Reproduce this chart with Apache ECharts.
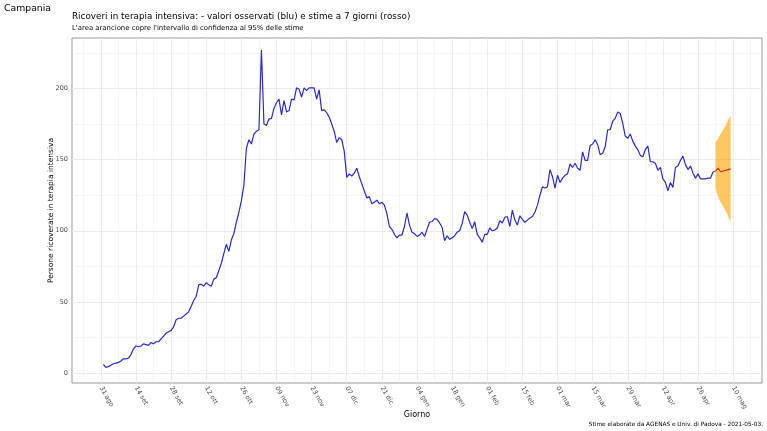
<!DOCTYPE html>
<html>
<head>
<meta charset="utf-8">
<script src="https://cdn.jsdelivr.net/npm/echarts@6/dist/echarts.min.js"></script>
<style>
html, body { margin: 0; padding: 0; background: #fff; }
#chart { width: 767px; height: 431px; }
</style>
</head>
<body>
<div id="chart"></div>
<script>
// giorno 0 = 31 agosto 2020
var startDate = Date.UTC(2020, 7, 31);
var mesi = ['gen', 'feb', 'mar', 'apr', 'mag', 'giu', 'lug', 'ago', 'set', 'ott', 'nov', 'dic'];

// valori osservati, dal giorno 1 (01 set) al giorno 244 (02 mag)
var obsStart = 1;
var obsValues = [
    6, 4, 4.5, 5.5, 6.5, 7, 7.5, 8.5, 10, 10,
    10.5, 13, 17, 19, 18.5, 19, 20.5, 20, 19.5, 21.5,
    20.5, 22, 22, 24, 26, 28, 29, 30, 32.5, 37.5,
    38.5, 38.5, 40, 41.5, 43, 47, 51, 54, 62, 62.5,
    61, 63.5, 62, 61, 66, 67, 72, 77, 84, 90.5,
    85.5, 93.5, 98, 106, 113, 121, 132, 158, 164, 161,
    168, 170, 171, 227, 175, 174, 178.5, 179, 186, 190,
    192.5, 181.5, 191.5, 183.5, 184.5, 192.5, 192, 200.5, 199.5, 194,
    200.5, 198.5, 200.5, 200.5, 200.5, 192.5, 199, 184.5, 185, 183,
    180, 175, 170, 162, 165.5, 164, 156, 137.5, 140, 138.5,
    140.5, 144, 138, 133, 128, 123, 124, 119, 120, 121.5,
    119, 120, 118, 112, 103, 101, 97.5, 95, 97, 97,
    103, 112.5, 104, 99, 98, 96, 97, 99, 96, 101,
    106, 106.5, 108.5, 108, 105.5, 102.5, 93, 96.5, 94, 95,
    96.5, 99, 100, 105, 113.5, 111, 106, 101.5, 106.3, 97.5,
    95, 92, 97.5, 97.5, 102, 100, 100.5, 102, 107, 105.5,
    109.5, 110, 103, 114.5, 107.5, 104, 110.5, 108, 106, 107.5,
    109, 110, 113, 118, 125, 131, 130, 131, 143, 138,
    130, 139, 134, 137, 139, 140, 147, 144.5, 147.5, 144,
    142.5, 155.5, 149.5, 149.5, 160, 161, 164, 160.5, 153.5, 154.5,
    159, 171, 171, 177, 179, 183.5, 182.5, 175.5, 166.5, 165,
    168, 163, 159.5, 157, 153, 152, 157, 159.5, 148.5, 148.5,
    147.5, 142.5, 144.5, 136.5, 134, 128, 134, 130.5, 144.5, 145.5,
    149.5, 152.5, 146.5, 143, 145.5, 140.5, 137, 140, 136.5, 136.5,
    136.5, 137, 137, 141.5
];

// stime a 7 giorni
var fcStart = 244;
var fcValues = [141.5, 142, 144, 141.5, 142, 142.5, 143, 143.5];
var bandStart = 245;
var bandLow = [129, 124, 120, 117, 114, 110, 106];
var bandHigh = [162, 165, 168, 171, 174, 178, 181];

var xTicks = [0, 14, 28, 42, 56, 70, 84, 98, 112, 126, 140, 154, 168, 182, 196, 210, 224, 238, 252];
var xMinor = [-7, 7, 21, 35, 49, 63, 77, 91, 105, 119, 133, 147, 161, 175, 189, 203, 217, 231, 245, 259];
var yTicks = [0, 50, 100, 150, 200];
var yMinor = [25, 75, 125, 175, 225];

function pairs(start, vals) {
    return vals.map(function (v, i) { return [start + i, v]; });
}

function dayLabel(d) {
    var dt = new Date(startDate + d * 86400000);
    var g = dt.getUTCDate();
    return (g < 10 ? '0' + g : '' + g) + ' ' + mesi[dt.getUTCMonth()];
}

function gridLines(vals, axis, width) {
    return vals.map(function (v) {
        var o = {};
        o[axis] = v;
        o.lineStyle = { color: '#ebebeb', width: width, type: 'solid' };
        return o;
    });
}

var bandData = bandLow.map(function (v, i) { return [bandStart + i, v, bandHigh[i]]; });

var font = 'DejaVu Sans';
var chart = echarts.init(document.getElementById('chart'));

var option = {
    animation: false,
    title: [
        {
            text: 'Campania', left: 4, top: 4, padding: 0,
            textStyle: { fontFamily: font, fontSize: 9.3, fontWeight: 'normal', color: '#000' }
        },
        {
            text: 'Ricoveri in terapia intensiva: - valori osservati (blu) e stime a 7 giorni (rosso)',
            subtext: "L'area arancione copre l'intervallo di confidenza al 95% delle stime",
            left: 72, top: 12, itemGap: 4, padding: 0,
            textStyle: { fontFamily: font, fontSize: 8.8, fontWeight: 'normal', color: '#000' },
            subtextStyle: { fontFamily: font, fontSize: 6.9, color: '#000' }
        },
        {
            text: 'Stime elaborate da AGENAS e Univ. di Padova - 2021-05-03.',
            right: 4, bottom: 4, padding: 0,
            textStyle: { fontFamily: font, fontSize: 5.8, fontWeight: 'normal', color: '#000' }
        }
    ],
    grid: {
        left: 72, right: 5, top: 38, bottom: 48,
        show: true, borderColor: '#333', borderWidth: 0.5, backgroundColor: '#fff'
    },
    xAxis: {
        type: 'value', min: -11.5, max: 263.5,
        name: 'Giorno', nameLocation: 'middle', nameGap: 28, nameMoveOverlap: false,
        nameTextStyle: { fontFamily: font, fontSize: 8, color: '#000' },
        axisLine: { show: false },
        splitLine: { show: false },
        axisTick: { show: true, customValues: xTicks, length: 3, lineStyle: { color: '#333', width: 0.5 } },
        axisLabel: {
            customValues: xTicks, rotate: -60, margin: 4,
            fontFamily: font, fontSize: 6.5, color: '#4d4d4d',
            formatter: function (v) { return dayLabel(v); }
        }
    },
    yAxis: {
        type: 'value', min: -7, max: 235.5,
        name: 'Persone ricoverate in terapia intensiva', nameLocation: 'middle', nameGap: 17, nameMoveOverlap: false,
        nameTextStyle: { fontFamily: font, fontSize: 7.5, color: '#000' },
        axisLine: { show: false },
        splitLine: { show: false },
        axisTick: { show: true, customValues: yTicks, length: 3, lineStyle: { color: '#333', width: 0.5 } },
        axisLabel: { customValues: yTicks, margin: 4, fontFamily: font, fontSize: 6.5, color: '#4d4d4d' }
    },
    series: [
        {
            type: 'line', data: [], z: 0, silent: true,
            markLine: {
                silent: true, symbol: 'none', animation: false,
                label: { show: false },
                data: gridLines(xMinor, 'xAxis', 0.5)
                    .concat(gridLines(yMinor, 'yAxis', 0.5))
                    .concat(gridLines(xTicks, 'xAxis', 1))
                    .concat(gridLines(yTicks, 'yAxis', 1))
            }
        },
        {
            type: 'custom', z: 10, silent: true,
            data: bandData,
            encode: { x: 0, y: [1, 2] },
            renderItem: function (params, api) {
                if (params.dataIndex !== 0) return;
                var pts = [];
                bandData.forEach(function (d) { pts.push(api.coord([d[0], d[2]])); });
                bandData.slice().reverse().forEach(function (d) { pts.push(api.coord([d[0], d[1]])); });
                return {
                    type: 'polygon',
                    shape: { points: pts },
                    style: { fill: 'rgba(255,165,0,0.62)', stroke: null }
                };
            }
        },
        {
            type: 'line', z: 11, data: pairs(obsStart, obsValues),
            symbol: 'none', lineStyle: { color: '#2a2ac4', width: 1.2 }
        },
        {
            type: 'line', z: 12, data: pairs(fcStart, fcValues),
            symbol: 'none', lineStyle: { color: '#d42a16', width: 1.1 }
        }
    ]
};

chart.setOption(option);
</script>
</body>
</html>
